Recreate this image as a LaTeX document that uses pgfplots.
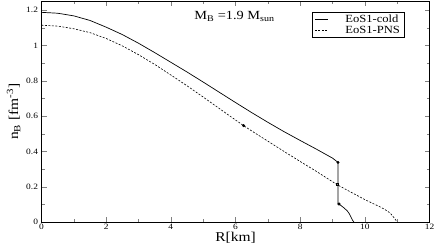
\documentclass[border=0pt]{standalone}
\usepackage{fontspec}
\setmainfont{Liberation Serif}[FakeStretch=1.15]
\usepackage{pgfplots}
\pgfplotsset{compat=1.18}
\begin{document}
\begin{tikzpicture}
\begin{axis}[
  at={(0,0)}, anchor=origin,
  scale only axis, width=388bp, height=220.6bp,
  xmin=0, xmax=12, ymin=0, ymax=1.25,
  xtick={0,2,...,12}, minor xtick={1,3,...,11},
  ytick={0,0.2,...,1.2}, minor ytick={0.1,0.3,...,1.1},
  tick align=inside, major tick length=5bp, minor tick length=3bp,
  ticklabel style={font=\fontsize{8.2}{9}\selectfont},
  xticklabel style={yshift=1pt},
  /pgf/number format/assume math mode=true,
  xlabel={R[km]}, ylabel={n\textsubscript{B} [fm\textsuperscript{-3}]},
  label style={font=\fontsize{13.5}{14}\selectfont},
  xlabel style={yshift=5pt},
  ylabel style={yshift=-1pt},
  clip=false,
  legend style={at={(axis cs:8.38,1.19)}, anchor=north west, draw=black, line width=0.4pt,
    font=\fontsize{11}{11}\selectfont, row sep=-2.5pt, inner xsep=2pt, inner ysep=1pt,
    cells={anchor=west}},
  legend image code/.code={\draw[#1] (0bp,0bp) -- (13bp,0bp); \path (28bp,0bp);},
  legend cell align=left,
]
\addplot[black, line width=0.7pt] coordinates {
 (0,1.188) (0.5,1.183) (1,1.168) (1.5,1.142) (2,1.104) (2.5,1.062) (3,1.013) (3.5,0.960)
 (4,0.905) (4.5,0.850) (5,0.793) (5.5,0.735) (6,0.677) (6.5,0.620) (7,0.565) (7.5,0.512)
 (8,0.462) (8.5,0.413) (9,0.362) (9.17,0.338)
};
\addlegendentry{EoS1-cold}
\addplot[black, line width=0.6pt, dash pattern=on 2pt off 1.5pt] coordinates {
 (0,1.115) (0.5,1.110) (1,1.095) (1.5,1.073) (2,1.040) (2.5,0.998) (3,0.948) (3.5,0.893)
 (4,0.833) (4.5,0.772) (5,0.708) (5.5,0.643) (6,0.578) (6.25,0.546) (6.5,0.516) (7,0.458)
 (7.5,0.400) (8,0.343) (8.5,0.287) (9.13,0.213) (9.5,0.176) (10,0.127) (10.5,0.083)
 (10.7,0.062) (10.8,0.047) (10.9,0.025) (11.0,0)
};
\addlegendentry{EoS1-PNS}
\addplot[black, line width=0.7pt, forget plot] coordinates {
 (9.17,0.338) (9.17,0.102) (9.2,0.102) (9.3,0.088) (9.38,0.076) (9.46,0.062) (9.52,0.047)
 (9.57,0.028) (9.62,0.010) (9.66,0)
};
\addplot[only marks, mark=*, mark size=1.3pt, black, forget plot] coordinates {
 (9.17,0.338) (9.2,0.102) (6.25,0.546)
};
\addplot[only marks, mark=square*, mark size=1.1pt, black, fill=gray, forget plot] coordinates {
 (9.14,0.213)
};
\node[anchor=west, font=\fontsize{12.5}{13}\selectfont, inner sep=0pt] at (axis cs:4.72,1.165)
  {M\textsubscript{B} =1.9 M\textsubscript{sun}};
\end{axis}
\pgfresetboundingbox
\path[use as bounding box] (-41.5bp,-23bp) rectangle (394.5bp,222bp);
\end{tikzpicture}
\end{document}
